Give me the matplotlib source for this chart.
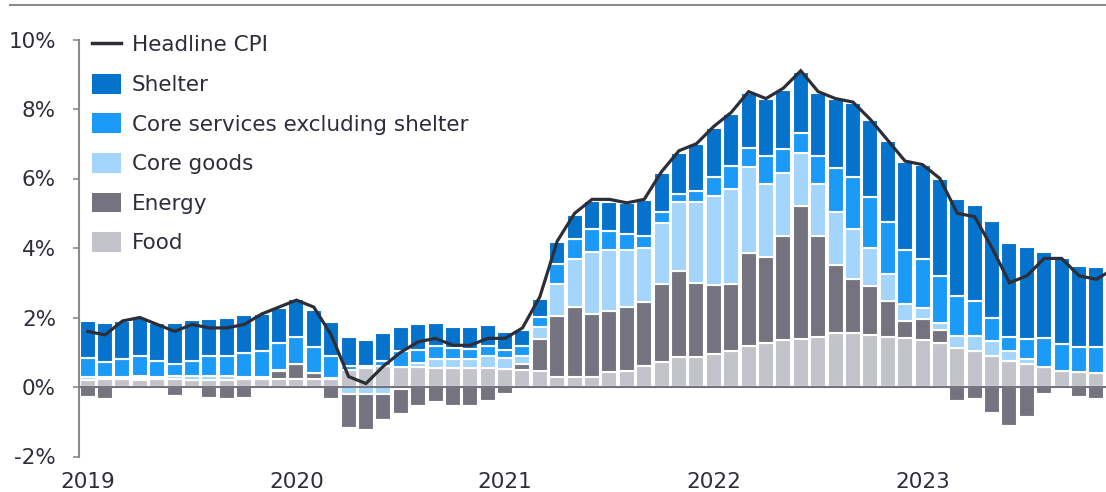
import matplotlib
matplotlib.use("Agg")
import matplotlib.pyplot as plt
from matplotlib.lines import Line2D
from matplotlib.patches import Patch
import numpy as np
import pandas as pd

# monthly contributions to headline CPI, Jan 2019 - Dec 2023 (pp)
months = pd.date_range("2019-01-01", periods=60, freq="MS")

food = [0.20, 0.22, 0.22, 0.20, 0.22, 0.22, 0.20, 0.20, 0.20, 0.22, 0.22, 0.22,
        0.24, 0.24, 0.24, 0.50, 0.56, 0.60, 0.57, 0.57, 0.55, 0.55, 0.55, 0.55,
        0.52, 0.48, 0.46, 0.30, 0.30, 0.30, 0.44, 0.47, 0.61, 0.71, 0.85, 0.85,
        0.94, 1.04, 1.18, 1.28, 1.35, 1.37, 1.45, 1.55, 1.55, 1.50, 1.45, 1.40,
        1.35, 1.27, 1.11, 1.04, 0.89, 0.76, 0.66, 0.58, 0.47, 0.42, 0.39, 0.38]
energy = [-0.30, -0.35, 0.00, 0.07, 0.00, -0.26, -0.07, -0.33, -0.35, -0.31, 0.00, 0.25,
          0.41, 0.17, -0.35, -0.99, -1.05, -0.75, -0.72, -0.54, -0.44, -0.54, -0.55, -0.39,
          -0.21, 0.18, 0.93, 1.74, 2.01, 1.79, 1.75, 1.84, 1.84, 2.24, 2.49, 2.13,
          2.00, 1.92, 2.67, 2.47, 3.00, 3.85, 2.90, 1.96, 1.56, 1.42, 1.02, 0.50,
          0.61, 0.37, -0.40, -0.35, -0.76, -1.12, -0.85, -0.20, 0.00, -0.30, -0.35, -0.10]
core_goods = [0.08, 0.06, 0.06, 0.05, 0.06, 0.09, 0.13, 0.13, 0.13, 0.06, 0.06, 0.03,
              0.00, 0.00, 0.02, -0.20, -0.20, -0.20, -0.06, 0.12, 0.25, 0.26, 0.26, 0.33,
              0.32, 0.23, 0.34, 0.92, 1.36, 1.80, 1.75, 1.63, 1.54, 1.76, 1.97, 2.35,
              2.56, 2.73, 2.47, 2.08, 1.80, 1.52, 1.48, 1.53, 1.44, 1.07, 0.77, 0.48,
              0.32, 0.21, 0.36, 0.43, 0.43, 0.28, 0.15, 0.00, 0.00, 0.00, 0.00, 0.00]
core_services = [0.56, 0.43, 0.53, 0.57, 0.47, 0.35, 0.43, 0.56, 0.56, 0.71, 0.75, 0.76,
                 0.80, 0.73, 0.63, 0.10, 0.03, 0.16, 0.48, 0.38, 0.39, 0.30, 0.29, 0.31,
                 0.23, 0.28, 0.28, 0.57, 0.58, 0.65, 0.55, 0.45, 0.36, 0.32, 0.24, 0.31,
                 0.55, 0.68, 0.57, 0.83, 0.69, 0.56, 0.83, 1.25, 1.50, 1.47, 1.52, 1.56,
                 1.39, 1.34, 1.15, 1.00, 0.68, 0.41, 0.56, 0.82, 0.76, 0.74, 0.77, 0.78]
shelter = [1.07, 1.12, 1.10, 1.11, 1.08, 1.17, 1.18, 1.07, 1.11, 1.07, 1.08, 1.01,
           1.07, 1.07, 0.97, 0.85, 0.77, 0.78, 0.68, 0.75, 0.64, 0.63, 0.64, 0.58,
           0.51, 0.47, 0.53, 0.63, 0.70, 0.82, 0.84, 0.90, 1.03, 1.12, 1.19, 1.34,
           1.39, 1.49, 1.56, 1.62, 1.71, 1.76, 1.79, 1.99, 2.13, 2.22, 2.32, 2.54,
           2.72, 2.79, 2.79, 2.77, 2.78, 2.68, 2.67, 2.49, 2.49, 2.32, 2.28, 2.24]
headline = [1.6, 1.5, 1.9, 2.0, 1.8, 1.6, 1.8, 1.7, 1.7, 1.8, 2.1, 2.3,
            2.5, 2.3, 1.5, 0.3, 0.1, 0.6, 1.0, 1.3, 1.4, 1.2, 1.2, 1.4,
            1.4, 1.7, 2.6, 4.2, 5.0, 5.4, 5.4, 5.3, 5.4, 6.2, 6.8, 7.0,
            7.5, 7.9, 8.5, 8.3, 8.6, 9.1, 8.5, 8.3, 8.2, 7.7, 7.1, 6.5,
            6.4, 6.0, 5.0, 4.9, 4.0, 3.0, 3.2, 3.7, 3.7, 3.2, 3.1, 3.4]

# stacking order from the zero line outward
series = [("Food", food, "#c3c3cc"),
          ("Energy", energy, "#74737f"),
          ("Core goods", core_goods, "#a4d5fc"),
          ("Core services excluding shelter", core_services, "#1b9af8"),
          ("Shelter", shelter, "#0573cc")]

txt = "#2e2e38"
plt.rcParams["font.family"] = "DejaVu Sans"
plt.rcParams["font.size"] = 15.5

fig = plt.figure(figsize=(11.06, 4.92), dpi=100)
ax = fig.add_axes([79 / 1106, 35.5 / 492, 1 - 79 / 1106, 417 / 492])

x = np.arange(len(months))
pos_bottom = np.zeros(len(x))
for name, vals, col in series:
    v = np.clip(np.array(vals), 0, None)
    ax.bar(x, v, bottom=pos_bottom, width=0.92, color=col,
           edgecolor="white", linewidth=1.5, zorder=2)
    pos_bottom += v

# negatives: core goods sits next to zero, energy below it
neg_bottom = np.zeros(len(x))
for name, vals, col in series[::-1]:
    v = np.clip(np.array(vals), None, 0)
    ax.bar(x, v, bottom=neg_bottom, width=0.92, color=col,
           edgecolor="white", linewidth=1.5, zorder=2)
    neg_bottom += v

ax.plot(x, headline, color=txt, lw=2.3, zorder=4, solid_joinstyle="miter")
ax.axhline(0, color="#747480", lw=1.5, zorder=3)

ax.set_xlim(-0.5, 58.55)
ax.set_ylim(-2, 10)
ax.set_yticks(np.arange(-2, 11, 2))
ax.set_yticklabels([f"{t}%" for t in range(-2, 11, 2)])
jan = [i for i, m in enumerate(months) if m.month == 1]
ax.set_xticks(jan)
ax.set_xticklabels([str(months[i].year) for i in jan])

for s in ["top", "right", "bottom"]:
    ax.spines[s].set_visible(False)
ax.spines["left"].set_color("#8a8a90")
ax.spines["left"].set_linewidth(1.5)
ax.tick_params(axis="y", length=4.5, width=1.2, color="#8a8a90", pad=12,
               labelcolor=txt)
ax.tick_params(axis="x", length=0, pad=11, labelcolor=txt)

handles = [Line2D([0], [0], color=txt, lw=2.5)]
labels = ["Headline CPI"]
for name, vals, col in series[::-1]:
    handles.append(Patch(facecolor=col, edgecolor="none"))
    labels.append(name)
leg = fig.legend(handles, labels, loc="upper left",
                 bbox_to_anchor=(92 / 1106, 1 - 34 / 492),
                 frameon=False, borderpad=0, borderaxespad=0,
                 handlelength=1.35, handleheight=1.05, handletextpad=0.5,
                 labelspacing=0.85, labelcolor=txt)

# thin rule along the top of the figure
fig.add_artist(Line2D([10 / 1106, 1], [1 - 4.5 / 492] * 2,
                      transform=fig.transFigure, color="#8c8c8c", lw=1.5))

fig.savefig("out.png", dpi=100)
